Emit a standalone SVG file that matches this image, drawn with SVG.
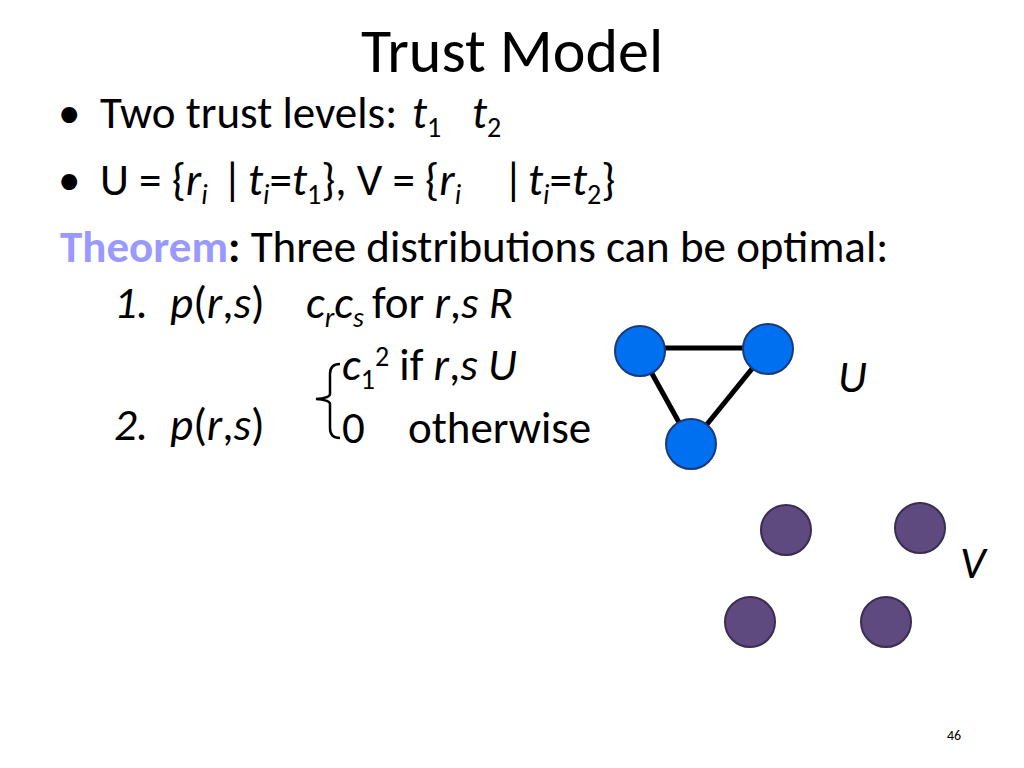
<svg xmlns="http://www.w3.org/2000/svg" width="1024" height="768" viewBox="0 0 1024 768">
<style>
text{font-family:Carlito,Lato,"Open Sans",sans-serif;fill:#000}
.b{font-size:45px}
.i{font-style:italic}
.s{font-size:28px}
.u{fill:#0070f0;stroke:#1b3a78;stroke-width:2}
.v{fill:#5e4a7e;stroke:#3a2c52;stroke-width:2}
</style>
<rect width="1024" height="768" fill="#fff"/>
<text x="512" y="72" font-size="62" text-anchor="middle">Trust Model</text>
<text class="b" x="58" y="128">•</text>
<text class="b" x="100" y="128">Two trust levels: <tspan class="i" x="412">t</tspan><tspan class="s" dy="9">1</tspan><tspan class="i" x="472" dy="-9">t</tspan><tspan class="s" dy="9">2</tspan></text>
<text class="b" x="58" y="195">•</text>
<text class="b" x="100" y="195">U = {<tspan class="i">r</tspan><tspan class="s i" dy="9">i</tspan><tspan dy="-9" x="222">|</tspan><tspan class="i" x="248">t</tspan><tspan class="s i" dy="9">i</tspan><tspan dy="-9">=</tspan><tspan class="i">t</tspan><tspan class="s" dy="9">1</tspan><tspan dy="-9">}, V  = {</tspan><tspan class="i">r</tspan><tspan class="s i" dy="9">i</tspan><tspan dy="-9" x="503">|</tspan><tspan class="i" x="528">t</tspan><tspan class="s i" dy="9">i</tspan><tspan dy="-9">=</tspan><tspan class="i">t</tspan><tspan class="s" dy="9">2</tspan><tspan dy="-9">}</tspan></text>
<text class="b" x="60" y="262"><tspan fill="#9999ff" font-weight="bold">Theorem</tspan><tspan font-weight="bold">:</tspan> Three distributions can be optimal:</text>
<text class="b i" x="114" y="318">1.<tspan x="170">p</tspan><tspan font-style="normal">(</tspan>r<tspan font-style="normal">,</tspan>s<tspan font-style="normal">)</tspan></text>
<text class="b" x="306" y="318"><tspan class="i">c</tspan><tspan class="s i" dy="9">r</tspan><tspan class="i" dy="-9">c</tspan><tspan class="s i" dy="9">s</tspan><tspan dy="-9" x="372">for </tspan><tspan class="i">r</tspan>,<tspan class="i">s R</tspan></text>
<text class="b" x="342" y="380"><tspan class="i">c</tspan><tspan class="s" dy="9">1</tspan><tspan class="s" dy="-23">2</tspan><tspan dy="14"> if </tspan><tspan class="i">r</tspan>,<tspan class="i">s U</tspan></text>
<text class="b i" x="114" y="440">2.<tspan x="170">p</tspan><tspan font-style="normal">(</tspan>r<tspan font-style="normal">,</tspan>s<tspan font-style="normal">)</tspan></text>
<text class="b" x="342" y="443">0<tspan x="408">otherwise</tspan></text>
<path d="M340 364 Q330 364 330 374 L330 394 Q330 398 316 399 Q330 400 330 404 L330 428 Q330 438 340 438" fill="none" stroke="#000" stroke-width="2.5"/>
<g id="connectors" stroke="#000" stroke-width="5">
<line x1="640" y1="348" x2="768" y2="348"/>
<line x1="640" y1="352" x2="691" y2="444"/>
<line x1="768" y1="349" x2="691" y2="444"/>
</g>
<g id="u1"><circle class="u" cx="640" cy="351" r="25"/></g>
<g id="u2"><circle class="u" cx="768" cy="349" r="25"/></g>
<g id="u3"><circle class="u" cx="691" cy="444" r="25"/></g>
<g id="v1"><circle class="v" cx="786" cy="530" r="25"/></g>
<g id="v2"><circle class="v" cx="920" cy="528" r="25"/></g>
<g id="v3"><circle class="v" cx="750" cy="622" r="25"/></g>
<g id="v4"><circle class="v" cx="886" cy="622" r="25"/></g>
<text class="b i" x="838" y="392">U</text>
<text class="b i" x="960" y="578">V</text>
<text x="954" y="740" font-size="14" fill="#888" text-anchor="middle">46</text>
</svg>
